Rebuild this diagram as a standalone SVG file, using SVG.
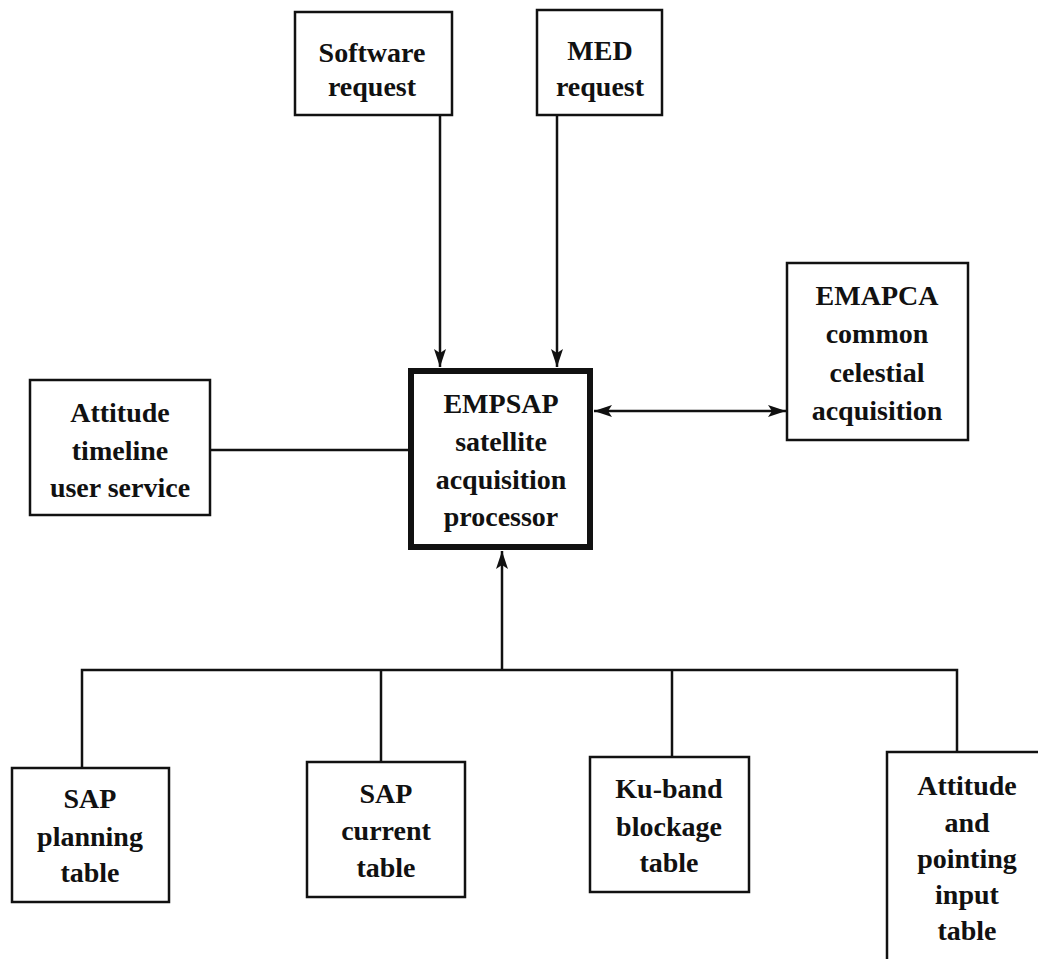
<svg xmlns="http://www.w3.org/2000/svg" width="1038" height="959" viewBox="0 0 1038 959">
<defs>
<style>
.box{fill:#fff;stroke:#111;stroke-width:2.5}
.main{fill:#fff;stroke:#111;stroke-width:6}
.ln{fill:none;stroke:#111;stroke-width:2.5}
text{font-family:"Liberation Serif","Times New Roman",serif;font-weight:bold;font-size:28px;fill:#111;text-anchor:middle}
</style>
<marker id="ah" viewBox="0 0 18 12" refX="18" refY="6" markerWidth="18" markerHeight="12" markerUnits="userSpaceOnUse" orient="auto-start-reverse">
<path d="M0,0 L18,6 L0,12 L4,6 Z" fill="#111"/>
</marker>
</defs>
<rect width="1038" height="959" fill="#fff"/>
<g id="connectors">
<line class="ln" x1="440" y1="115" x2="440" y2="367" marker-end="url(#ah)"/>
<line class="ln" x1="557" y1="115" x2="557" y2="367" marker-end="url(#ah)"/>
<line class="ln" x1="594" y1="411" x2="786" y2="411" marker-start="url(#ah)" marker-end="url(#ah)"/>
<line class="ln" x1="210" y1="450" x2="408" y2="450"/>
<line class="ln" x1="502" y1="670" x2="502" y2="551" marker-end="url(#ah)"/>
<polyline class="ln" points="82,768 82,670 957,670 957,752"/>
<line class="ln" x1="381" y1="670" x2="381" y2="762"/>
<line class="ln" x1="672" y1="670" x2="672" y2="757"/>
</g>
<g id="software">
<rect class="box" x="295" y="12" width="157" height="103"/>
<text x="372" y="62">Software</text>
<text x="372" y="96">request</text>
</g>
<g id="med">
<rect class="box" x="537" y="10" width="125" height="105"/>
<text x="600" y="60">MED</text>
<text x="600" y="96">request</text>
</g>
<g id="empsap">
<rect class="main" x="411" y="371" width="179" height="176"/>
<text x="501" y="413">EMPSAP</text>
<text x="501" y="451">satellite</text>
<text x="501" y="489">acquisition</text>
<text x="501" y="526">processor</text>
</g>
<g id="emapca">
<rect class="box" x="787" y="263" width="181" height="177"/>
<text x="877" y="305">EMAPCA</text>
<text x="877" y="343">common</text>
<text x="877" y="382">celestial</text>
<text x="877" y="420">acquisition</text>
</g>
<g id="attitude-timeline">
<rect class="box" x="30" y="380" width="180" height="135"/>
<text x="120" y="422">Attitude</text>
<text x="120" y="460">timeline</text>
<text x="120" y="497">user service</text>
</g>
<g id="sap-planning">
<rect class="box" x="12" y="768" width="157" height="134"/>
<text x="90" y="808">SAP</text>
<text x="90" y="846">planning</text>
<text x="90" y="882">table</text>
</g>
<g id="sap-current">
<rect class="box" x="307" y="762" width="158" height="135"/>
<text x="386" y="803">SAP</text>
<text x="386" y="840">current</text>
<text x="386" y="877">table</text>
</g>
<g id="ku-band">
<rect class="box" x="590" y="757" width="159" height="135"/>
<text x="669" y="798">Ku-band</text>
<text x="669" y="836">blockage</text>
<text x="669" y="872">table</text>
</g>
<g id="attitude-pointing">
<rect class="box" x="887" y="752" width="170" height="220"/>
<text x="967" y="795">Attitude</text>
<text x="967" y="832">and</text>
<text x="967" y="868">pointing</text>
<text x="967" y="904">input</text>
<text x="967" y="940">table</text>
</g>
</svg>
